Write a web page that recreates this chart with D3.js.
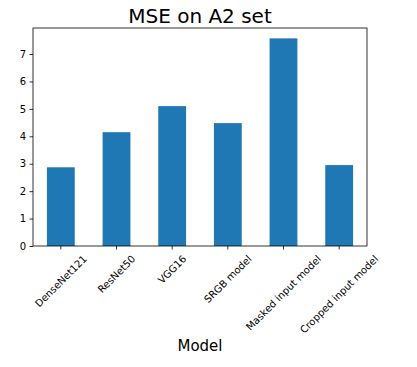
<!DOCTYPE html>
<html><head><meta charset="utf-8">
<script src="https://cdn.jsdelivr.net/npm/d3@7"></script>
<style>body{margin:0;background:#fff}svg{display:block}text{font-family:"DejaVu Sans",sans-serif}</style>
</head><body>
<svg id="c" width="417" height="367"></svg>
<script>
const categories = ["DenseNet121","ResNet50","VGG16","SRGB model","Masked input model","Cropped input model"];
const values = [2.87, 4.15, 5.10, 4.48, 7.57, 2.95];
const yTicks = [0,1,2,3,4,5,6,7];
const title = "MSE on A2 set";
const xLabel = "Model";

const svg = d3.select("#c");
const L = 33, R = 367, T = 28, B = 246;
const x = d3.scaleBand().domain(categories).range([L, R]).paddingInner(0.5).paddingOuter(0.25);
const y = d3.scaleLinear().domain([0, d3.max(values) * 1.05]).range([B, T]);

svg.selectAll("rect.bar").data(values).enter().append("rect")
  .attr("class","bar")
  .attr("x", (d,i) => x(categories[i]))
  .attr("width", x.bandwidth())
  .attr("y", d => y(d))
  .attr("height", d => B - y(d))
  .attr("fill", "#1f77b4");

// frame
svg.append("rect").attr("x", L).attr("y", T).attr("width", R - L).attr("height", B - T)
  .attr("fill","none").attr("stroke","#000").attr("stroke-width",0.8);

// y axis
const ya = svg.append("g").attr("transform", `translate(${L},0)`)
  .call(d3.axisLeft(y).tickValues(yTicks).tickSize(3.5).tickPadding(3.5).tickFormat(d3.format("d")));
ya.select(".domain").remove();
ya.selectAll("line").attr("stroke","#000").attr("stroke-width",0.8);
ya.selectAll("text").attr("font-size","10px").attr("fill","#000").attr("font-family","DejaVu Sans");

// x axis
const xa = svg.append("g").attr("transform", `translate(0,${B})`)
  .call(d3.axisBottom(x).tickSize(3.5).tickFormat(""));
xa.select(".domain").remove();
xa.selectAll("line").attr("stroke","#000").attr("stroke-width",0.8);

// rotated labels, bbox centered on tick (matplotlib rotation=45 style)
const y0 = B + 3.5 + 3.5;
categories.forEach(c => {
  const t = svg.append("text").text(c).attr("font-size","10px").attr("fill","#000")
    .attr("text-anchor","middle").attr("dominant-baseline","central");
  const w = t.node().getComputedTextLength();
  const h = 11.6;
  const H = (w + h) * Math.SQRT1_2;
  const cx = x(c) + x.bandwidth()/2;
  t.attr("transform", `translate(${cx},${y0 + H/2}) rotate(-45)`);
});

svg.append("text").text(title).attr("x", (L+R)/2).attr("y", 23)
  .attr("text-anchor","middle").attr("font-size","20px").attr("fill","#000");
svg.append("text").text(xLabel).attr("x", (L+R)/2).attr("y", 351)
  .attr("text-anchor","middle").attr("font-size","15px").attr("fill","#000");
</script>
</body></html>
